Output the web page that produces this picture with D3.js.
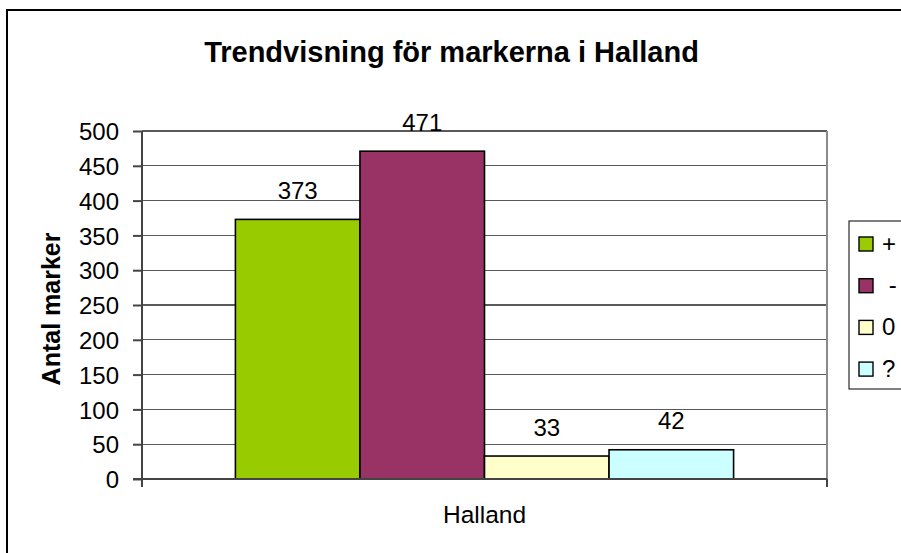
<!DOCTYPE html>
<html>
<head>
<meta charset="utf-8" />
<style>
    body { margin: 0; background: #fff; }
    svg { display: block; font-family: "Liberation Sans", Arial, sans-serif; }
    .grid line { stroke: #5a5a5a; stroke-width: 1.3; shape-rendering: crispEdges; }
    .y.axis line, .y.axis path { stroke: #444; stroke-width: 2; }
    .y.axis text { font-size: 24px; fill: #000; }
</style>
</head>
<body>
<svg width="901" height="553"></svg>
<script src="https://d3js.org/d3.v7.min.js"></script>
<script>
    // chart data
    var categories = ["Halland"];
    var series = ["+", " -", "0", "?"];
    var values = [373, 471, 33, 42];
    var colors = ["#99CC00", "#993366", "#FFFFCC", "#CCFFFF"];
    var yTicks = [0, 50, 100, 150, 200, 250, 300, 350, 400, 450, 500];

    var svg = d3.select("svg");
    var plot = { left: 142, right: 827, top: 131, bottom: 479 };

    // outer frame (chart is cropped at right/bottom)
    svg.append("rect")
        .attr("x", 7).attr("y", 10)
        .attr("width", 1000).attr("height", 1000)
        .attr("fill", "none")
        .attr("stroke", "#000")
        .attr("stroke-width", 2);

    svg.append("text")
        .attr("x", 451.5).attr("y", 62)
        .attr("text-anchor", "middle")
        .style("font-size", "29px")
        .style("font-weight", "bold")
        .text("Trendvisning för markerna i Halland");

    var y = d3.scaleLinear().domain([0, 500]).range([plot.bottom, plot.top]);

    var x0 = d3.scaleBand()
        .domain(categories)
        .range([plot.left, plot.right])
        .paddingInner(0)
        .paddingOuter(0.1875);

    var x1 = d3.scaleBand()
        .domain(series)
        .range([0, x0.bandwidth()])
        .padding(0);

    // gridlines
    svg.append("g").attr("class", "grid")
        .selectAll("line")
        .data(yTicks.filter(d => d > 0))
        .enter().append("line")
        .attr("x1", plot.left).attr("x2", plot.right)
        .attr("y1", d => y(d)).attr("y2", d => y(d));

    // plot area right border
    svg.append("line")
        .attr("x1", plot.right).attr("x2", plot.right)
        .attr("y1", plot.top).attr("y2", plot.bottom)
        .attr("stroke", "#8a8a8a").attr("stroke-width", 2);

    // bars
    var groups = svg.selectAll(".cat")
        .data(categories)
        .enter().append("g")
        .attr("class", "cat")
        .attr("transform", d => "translate(" + x0(d) + ",0)");

    var bars = groups.selectAll(".bar")
        .data(series.map((s, i) => ({ s: s, v: values[i], c: colors[i] })))
        .enter().append("g").attr("class", "bar");

    bars.append("rect")
        .attr("x", d => x1(d.s))
        .attr("y", d => y(d.v))
        .attr("width", x1.bandwidth())
        .attr("height", d => y(0) - y(d.v))
        .attr("fill", d => d.c)
        .attr("stroke", "#000")
        .attr("stroke-width", 1.6);

    bars.append("text")
        .attr("x", d => x1(d.s) + x1.bandwidth() / 2)
        .attr("y", d => y(d.v) - 20.5)
        .attr("text-anchor", "middle")
        .style("font-size", "24px")
        .text(d => d.v);

    // y axis
    var yAxis = d3.axisLeft(y)
        .tickValues(yTicks)
        .tickSizeInner(9)
        .tickSizeOuter(0)
        .tickPadding(14);

    var yg = svg.append("g")
        .attr("class", "y axis")
        .attr("transform", "translate(" + plot.left + ",0)")
        .call(yAxis);
    yg.select(".domain").remove();
    yg.selectAll("text").attr("dy", "0.36em");
    yg.append("line")
        .attr("x1", 0).attr("x2", 0)
        .attr("y1", plot.top).attr("y2", plot.bottom + 8);

    // x axis
    svg.append("line")
        .attr("x1", plot.left - 9).attr("x2", plot.right)
        .attr("y1", plot.bottom).attr("y2", plot.bottom)
        .attr("stroke", "#444").attr("stroke-width", 2);
    svg.append("line")
        .attr("x1", plot.right).attr("x2", plot.right)
        .attr("y1", plot.bottom).attr("y2", plot.bottom + 8)
        .attr("stroke", "#444").attr("stroke-width", 2);

    svg.selectAll(".xlabel")
        .data(categories)
        .enter().append("text")
        .attr("class", "xlabel")
        .attr("x", d => x0(d) + x0.bandwidth() / 2)
        .attr("y", 523)
        .attr("text-anchor", "middle")
        .style("font-size", "24.5px")
        .text(d => d);

    // y axis title
    svg.append("text")
        .attr("transform", "translate(60,309) rotate(-90)")
        .attr("text-anchor", "middle")
        .style("font-size", "25px")
        .style("font-weight", "bold")
        .text("Antal marker");

    // legend
    var legend = svg.append("g").attr("transform", "translate(849,221)");
    legend.append("rect")
        .attr("width", 100).attr("height", 168)
        .attr("fill", "#fff")
        .attr("stroke", "#000").attr("stroke-width", 1);

    var items = legend.selectAll(".item")
        .data(series)
        .enter().append("g")
        .attr("class", "item")
        .attr("transform", (d, i) => "translate(0," + (23 + i * 41.7) + ")");

    items.append("rect")
        .attr("x", 10).attr("y", -7)
        .attr("width", 14).attr("height", 14)
        .attr("fill", (d, i) => colors[i])
        .attr("stroke", "#000").attr("stroke-width", 1.4);

    items.append("text")
        .attr("x", 33).attr("y", 7.5)
        .style("font-size", "24px")
        .style("white-space", "pre")
        .text(d => d);
</script>
</body>
</html>
